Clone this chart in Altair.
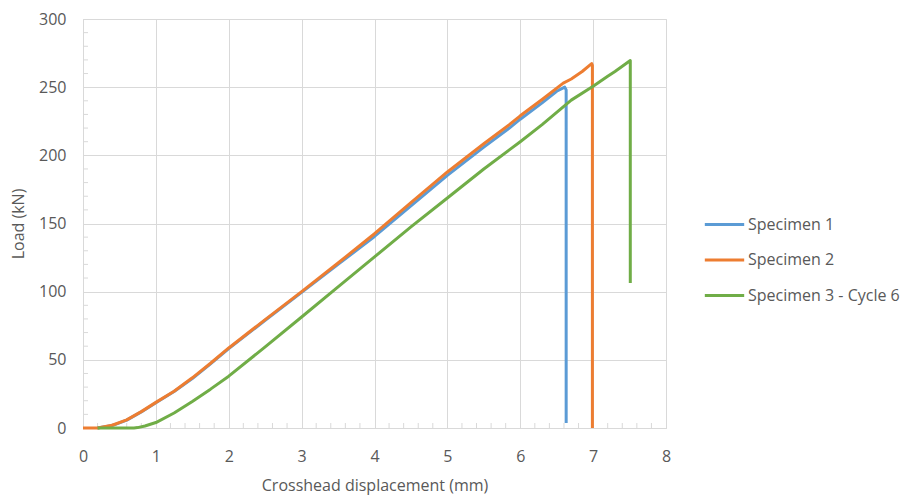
import altair as alt
import pandas as pd

# ---- data ----
s1_x = [0.2, 0.4, 0.6, 0.8, 1.0, 1.25, 1.5, 1.75, 2.0, 2.5, 3.0, 3.5, 4.0, 4.5, 5.0, 5.5, 5.85, 6.0, 6.3, 6.5, 6.61, 6.63, 6.63]
s1_y = [0, 1.8, 5.8, 11.8, 18.5, 26.8, 36.2, 47, 58.2, 79, 99.5, 120, 140.5, 163, 185.3, 206, 220, 226.5, 238.5, 247, 250, 248, 3.7]

s2_x = [0, 0.2, 0.4, 0.6, 0.8, 1.0, 1.25, 1.5, 1.75, 2.0, 2.5, 3.0, 3.5, 4.0, 4.5, 5.0, 5.5, 5.85, 6.0, 6.3, 6.59, 6.7, 6.85, 6.98, 6.99, 6.99]
s2_y = [0, 0, 2, 6, 12, 18.8, 27, 36.8, 47.5, 58.7, 79.5, 100, 121, 142.5, 165.3, 187.8, 208.5, 222.5, 229, 241, 253, 256, 261.5, 267.3, 266, 0]

s3_x = [0.2, 0.7, 0.75, 0.85, 1.0, 1.25, 1.5, 1.75, 2.0, 2.5, 3.0, 3.5, 4.0, 4.5, 5.0, 5.5, 5.85, 6.0, 6.3, 6.5, 6.7, 7.0, 7.2, 7.3, 7.51, 7.51]
s3_y = [0, 0, 0.3, 1.5, 4, 11, 19.5, 28.5, 38, 59.5, 81.4, 103.5, 125.5, 147.5, 168.7, 190, 204, 210, 222.5, 231.5, 240.5, 250.6, 258, 261.5, 269.5, 106.4]

series_names = ["Specimen 1", "Specimen 2", "Specimen 3 - Cycle 6"]
series_colors = ["#5B9BD5", "#ED7D31", "#70AD47"]

x_major = [0, 1, 2, 3, 4, 5, 6, 7, 8]
y_major = [0, 50, 100, 150, 200, 250, 300]
x_minor = [v / 5 for v in range(1, 40) if v % 5 != 0]
y_minor = [v for v in range(10, 300, 10) if v % 50 != 0]

rows = []
for name, xs_, ys_ in zip(series_names, [s1_x, s2_x, s3_x], [s1_y, s2_y, s3_y]):
    for i, (a, b) in enumerate(zip(xs_, ys_)):
        rows.append({"series": name, "x": a, "y": b, "i": i})
df = pd.DataFrame(rows)

W, H = 583, 409
FONT = "Open Sans"
GRAY = "#595959"
GRID = "#d9d9d9"

xs = alt.Scale(domain=[0, 8], nice=False, zero=False)
ys = alt.Scale(domain=[0, 300], nice=False)

lines = alt.Chart(df).mark_line(strokeWidth=3, strokeJoin="round", strokeCap="butt").encode(
    x=alt.X("x:Q", scale=xs,
            axis=alt.Axis(values=x_major, format="d", labelFlush=False, title="Crosshead displacement (mm)",
                          grid=True, gridColor=GRID, domainColor=GRID, tickSize=0, labelPadding=20,
                          titlePadding=13, labelFont=FONT, labelFontSize=16, labelColor=GRAY,
                          titleFont=FONT, titleFontSize=16, titleColor=GRAY, titleFontWeight="normal")),
    y=alt.Y("y:Q", scale=ys,
            axis=alt.Axis(values=y_major, format="d", labelFlush=False, title="Load (kN)", grid=True,
                          gridColor=GRID, domainColor=GRID, tickSize=0, labelPadding=17, titlePadding=12,
                          labelFont=FONT, labelFontSize=16, labelColor=GRAY,
                          titleFont=FONT, titleFontSize=16, titleColor=GRAY, titleFontWeight="normal")),
    color=alt.Color("series:N",
                    scale=alt.Scale(domain=series_names, range=series_colors),
                    legend=alt.Legend(title=None, orient="none", legendX=620, legendY=184,
                                      symbolType="stroke", symbolSize=1550, symbolStrokeWidth=3,
                                      labelFont=FONT, labelFontSize=16, labelColor=GRAY,
                                      labelOffset=2, rowPadding=5.5, padding=0)),
    order="i:Q",
)

xminor_df = pd.DataFrame({"x": x_minor})
yminor_df = pd.DataFrame({"y": y_minor})

xminor = alt.Chart(xminor_df).mark_rule(color=GRID, strokeWidth=1).encode(
    x=alt.X("x:Q", scale=xs), y=alt.value(H), y2=alt.value(H - 5))
yminor = alt.Chart(yminor_df).mark_rule(color=GRID, strokeWidth=1).encode(
    y=alt.Y("y:Q", scale=ys), x=alt.value(0), x2=alt.value(5))

chart = alt.layer(xminor, yminor, lines).properties(
    width=W, height=H,
    autosize=alt.AutoSizeParams(type="none"),
    padding={"left": 83, "top": 19, "right": 909 - 83 - W, "bottom": 497 - 19 - H},
).configure_view(stroke=None).configure(background="white")

chart.save("out.html", embed_options={"renderer": "svg", "actions": False})
